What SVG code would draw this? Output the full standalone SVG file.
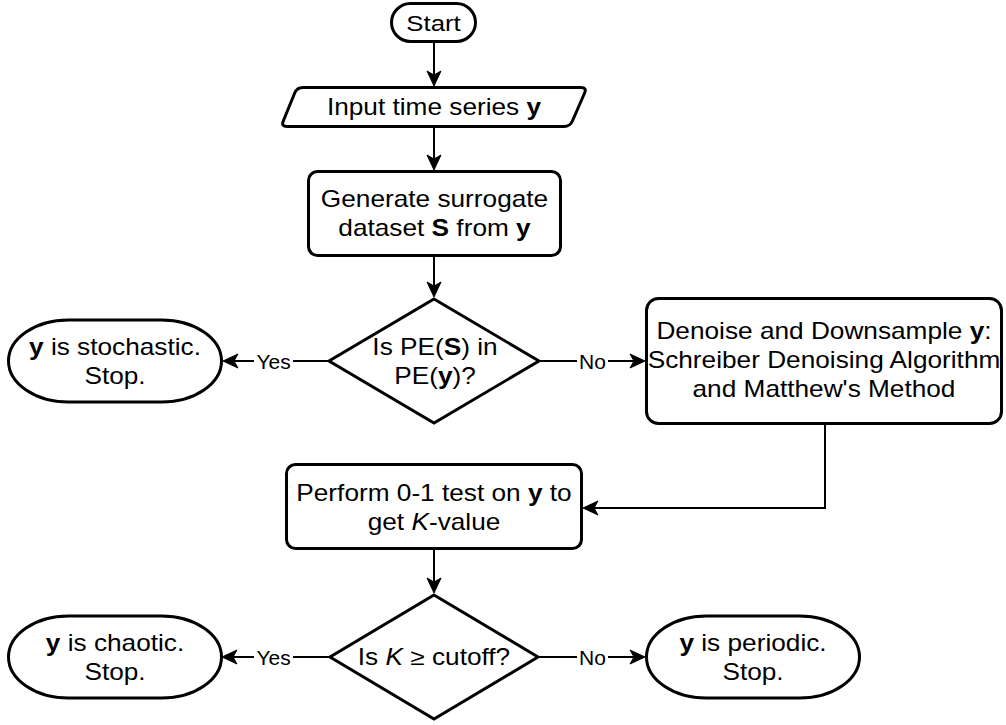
<svg xmlns="http://www.w3.org/2000/svg" width="1006" height="725" viewBox="0 0 1006 725">
<style>
.shape{fill:#fff;stroke:#000;stroke-width:3}
.edge{fill:none;stroke:#000;stroke-width:2}
.t{font-family:"Liberation Sans",Arial,Helvetica,sans-serif;font-size:23px;fill:#000;text-anchor:middle}
.lbl{font-family:"Liberation Sans",Arial,Helvetica,sans-serif;font-size:21px;fill:#000;text-anchor:middle}
.b{font-weight:bold}
.i{font-style:italic}
</style>
<defs>
<marker id="arr" viewBox="-24 -8 25 16" refX="-8" refY="0" markerWidth="25" markerHeight="16" markerUnits="userSpaceOnUse" orient="auto">
<path d="M0,0 L-15,-7 L-11,0 L-15,7 Z" fill="#000" stroke="#000" stroke-width="1" stroke-linejoin="miter"/>
</marker>
</defs>
<rect width="1006" height="725" fill="#fff"/>

<g id="connectors">
<path class="edge" d="M434,43 V78" marker-end="url(#arr)"/>
<path class="edge" d="M434,128 V162" marker-end="url(#arr)"/>
<path class="edge" d="M434,257 V289" marker-end="url(#arr)"/>
<path class="edge" d="M329,361 H231" marker-end="url(#arr)"/>
<path class="edge" d="M539,361 H637" marker-end="url(#arr)"/>
<path class="edge" d="M825,425 V508 H591" marker-end="url(#arr)"/>
<path class="edge" d="M434,550 V585" marker-end="url(#arr)"/>
<path class="edge" d="M329,657 H230" marker-end="url(#arr)"/>
<path class="edge" d="M538,657 H637" marker-end="url(#arr)"/>
<rect x="254" y="348" width="39" height="26" fill="#fff"/>
<text class="lbl" transform="translate(273.5 368.5)">Yes</text>
<rect x="577" y="348" width="31" height="26" fill="#fff"/>
<text class="lbl" transform="translate(592.5 368.5)">No</text>
<rect x="254" y="644" width="39" height="26" fill="#fff"/>
<text class="lbl" transform="translate(273.5 664.5)">Yes</text>
<rect x="577" y="644" width="31" height="26" fill="#fff"/>
<text class="lbl" transform="translate(592.5 664.5)">No</text>
</g>

<g id="start">
<rect class="shape" x="391.5" y="3.5" width="84" height="38" rx="19" ry="19"/>
<text class="t" transform="translate(433.5 30.5) scale(1.12 1)">Start</text>
</g>

<g id="input">
<path class="shape" d="M303,87.5 L581,87.5 Q587,87.5 584.6,93 L572.4,121 Q570,126.5 564,126.5 L287,126.5 Q281,126.5 283.3,121 L294.7,93 Q297,87.5 303,87.5 Z"/>
<text class="t" transform="translate(434 115) scale(1.14 1)">Input time series <tspan class="b">y</tspan></text>
</g>

<g id="generate">
<rect class="shape" x="308.5" y="171.5" width="252" height="84" rx="9" ry="9"/>
<text class="t" transform="translate(434.5 207) scale(1.14 1)">Generate surrogate</text>
<text class="t" transform="translate(434.5 236) scale(1.14 1)">dataset <tspan class="b">S</tspan> from <tspan class="b">y</tspan></text>
</g>

<g id="decision1">
<path class="shape" d="M434,299 L539,361 L434,423 L329,361 Z"/>
<text class="t" transform="translate(435 354.5) scale(1.14 1)">Is PE(<tspan class="b">S</tspan>) in</text>
<text class="t" transform="translate(435 383.5) scale(1.14 1)">PE(<tspan class="b">y</tspan>)?</text>
</g>

<g id="stochastic">
<rect class="shape" x="8.5" y="320" width="213" height="82" rx="60" ry="41"/>
<text class="t" transform="translate(115 354.5) scale(1.14 1)"><tspan class="b">y</tspan> is stochastic.</text>
<text class="t" transform="translate(115 383.5) scale(1.14 1)">Stop.</text>
</g>

<g id="denoise">
<rect class="shape" x="646.5" y="298.5" width="355" height="125" rx="12" ry="12"/>
<text class="t" transform="translate(824 339) scale(1.14 1)">Denoise and Downsample <tspan class="b">y</tspan>:</text>
<text class="t" transform="translate(824 368) scale(1.14 1)">Schreiber Denoising Algorithm</text>
<text class="t" transform="translate(824 397) scale(1.14 1)">and Matthew's Method</text>
</g>

<g id="perform">
<rect class="shape" x="286.5" y="464.5" width="295" height="84" rx="9" ry="9"/>
<text class="t" transform="translate(434 500.5) scale(1.14 1)">Perform 0-1 test on <tspan class="b">y</tspan> to</text>
<text class="t" transform="translate(434 529.5) scale(1.14 1)">get <tspan class="i">K</tspan>-value</text>
</g>

<g id="decision2">
<path class="shape" d="M434,595 L538,657 L434,719 L330,657 Z"/>
<text class="t" transform="translate(434 665) scale(1.14 1)">Is <tspan class="i">K</tspan> ≥ cutoff?</text>
</g>

<g id="chaotic">
<rect class="shape" x="8.5" y="616" width="213" height="82" rx="60" ry="41"/>
<text class="t" transform="translate(115 650.5) scale(1.14 1)"><tspan class="b">y</tspan> is chaotic.</text>
<text class="t" transform="translate(115 679.5) scale(1.14 1)">Stop.</text>
</g>

<g id="periodic">
<rect class="shape" x="646.5" y="616" width="213" height="82" rx="60" ry="41"/>
<text class="t" transform="translate(753 650.5) scale(1.14 1)"><tspan class="b">y</tspan> is periodic.</text>
<text class="t" transform="translate(753 679.5) scale(1.14 1)">Stop.</text>
</g>
</svg>
